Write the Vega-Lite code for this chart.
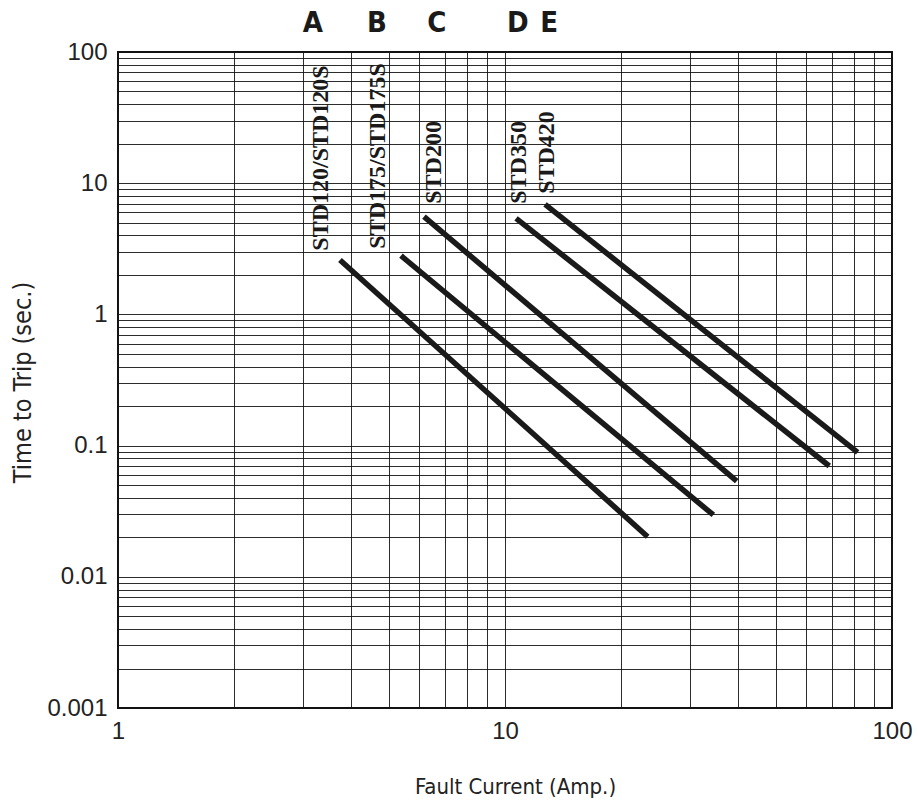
{
  "$schema": "https://vega.github.io/schema/vega-lite/v6.json",
  "width": 774,
  "height": 656,
  "autosize": {"type": "none"},
  "padding": {"left": 118, "top": 52, "right": 26, "bottom": 96},
  "background": "white",
  "config": {
    "view": {"stroke": "#111", "strokeWidth": 2},
    "axis": {
      "grid": true,
      "gridColor": "#151515",
      "gridWidth": 1,
      "gridOpacity": 0.9,
      "ticks": false,
      "domain": false,
      "labelFont": "Liberation Sans",
      "labelFontSize": 24,
      "labelColor": "#222",
      "titleFont": "DejaVu Sans Condensed, Liberation Sans",
      "titleFontWeight": "normal",
      "titleColor": "#222"
    }
  },
  "datasets": {
    "curves": [
      {"series": "A", "current": 3.746, "time": 2.60},
      {"series": "A", "current": 23.37, "time": 0.0202},
      {"series": "B", "current": 5.385, "time": 2.80},
      {"series": "B", "current": 34.54, "time": 0.0296},
      {"series": "C", "current": 6.176, "time": 5.556},
      {"series": "C", "current": 39.7, "time": 0.0537},
      {"series": "D", "current": 10.68, "time": 5.40},
      {"series": "D", "current": 68.86, "time": 0.0699},
      {"series": "E", "current": 12.69, "time": 6.905},
      {"series": "E", "current": 81.5, "time": 0.0889}
    ],
    "models": [
      {"label": "STD120/STD120S", "current": 3.346, "time": 3.06},
      {"label": "STD175/STD175S", "current": 4.69, "time": 3.17},
      {"label": "STD200", "current": 6.55, "time": 6.97},
      {"label": "STD350", "current": 10.87, "time": 6.97},
      {"label": "STD420", "current": 12.84, "time": 8.3}
    ],
    "letters": [
      {"letter": "A", "current": 3.19, "time": 142},
      {"letter": "B", "current": 4.67, "time": 142},
      {"letter": "C", "current": 6.67, "time": 142},
      {"letter": "D", "current": 10.8, "time": 142},
      {"letter": "E", "current": 13.0, "time": 142}
    ]
  },
  "encoding": {
    "x": {
      "field": "current",
      "type": "quantitative",
      "scale": {"type": "log", "domain": [1, 100], "nice": false},
      "axis": {
        "title": "Fault Current (Amp.)",
        "titleFontSize": 22,
        "values": [1,2,3,4,5,6,7,8,9,10,20,30,40,50,60,70,80,90,100],
        "format": "~g",
        "labelExpr": "indexof([1,10,100], datum.value) >= 0 ? datum.label : ''",
        "labelBaseline": "top",
        "labelPadding": 11,
        "labelFlush": false,
        "titleX": 397,
        "titleY": 78,
        "titleBaseline": "middle"
      }
    },
    "y": {
      "field": "time",
      "type": "quantitative",
      "scale": {"type": "log", "domain": [0.001, 100], "nice": false},
      "axis": {
        "title": "Time to Trip (sec.)",
        "titleFontSize": 25,
        "values": [0.001,0.002,0.003,0.004,0.005,0.006,0.007,0.008,0.009,0.01,0.02,0.03,0.04,0.05,0.06,0.07,0.08,0.09,0.1,0.2,0.3,0.4,0.5,0.6,0.7,0.8,0.9,1,2,3,4,5,6,7,8,9,10,20,30,40,50,60,70,80,90,100],
        "format": "~g",
        "labelExpr": "indexof([0.001,0.01,0.1,1,10,100], datum.value) >= 0 ? datum.label : ''",
        "labelPadding": 11,
        "labelFlush": false,
        "titleX": -96,
        "titleY": 330,
        "titleBaseline": "middle"
      }
    }
  },
  "layer": [
    {
      "data": {"name": "curves"},
      "mark": {"type": "line", "color": "#1a1a1a", "strokeWidth": 5.5, "strokeCap": "butt", "clip": false},
      "encoding": {"detail": {"field": "series"}}
    },
    {
      "data": {"name": "models"},
      "mark": {"type": "text", "angle": 270, "align": "left", "baseline": "middle", "font": "Liberation Serif", "fontWeight": "bold", "fontSize": 24, "color": "#1a1a1a", "clip": false},
      "encoding": {"text": {"field": "label"}}
    },
    {
      "data": {"name": "letters"},
      "mark": {"type": "text", "align": "center", "baseline": "alphabetic", "font": "DejaVu Sans Condensed, Liberation Sans", "fontWeight": "bold", "fontSize": 29, "color": "#1a1a1a", "clip": false},
      "encoding": {"text": {"field": "letter"}}
    }
  ]
}
